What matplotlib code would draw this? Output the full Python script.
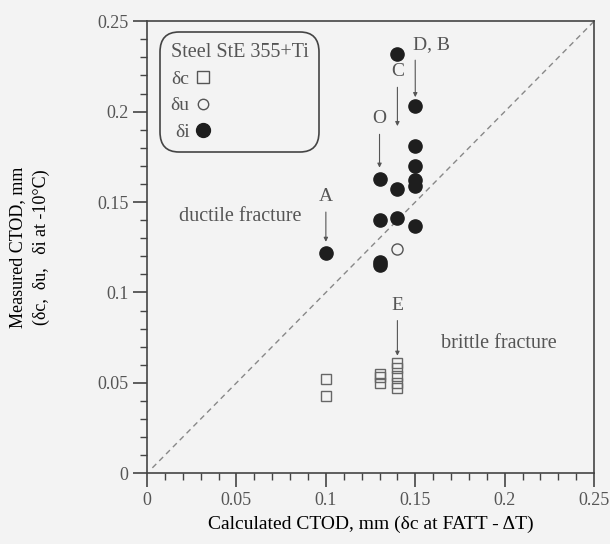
import matplotlib.pyplot as plt
from matplotlib.lines import Line2D
from matplotlib.ticker import MultipleLocator

# measured vs calculated CTOD
di_x = [0.10, 0.13, 0.13, 0.13, 0.13, 0.14, 0.14, 0.14, 0.15, 0.15, 0.15, 0.15, 0.15, 0.15]
di_y = [0.122, 0.163, 0.140, 0.117, 0.115, 0.232, 0.157, 0.141, 0.203, 0.181, 0.170, 0.162, 0.159, 0.137]
du_x = [0.14]
du_y = [0.124]
dc_x = [0.10, 0.10, 0.13, 0.13, 0.13, 0.14, 0.14, 0.14, 0.14, 0.14]
dc_y = [0.052, 0.043, 0.055, 0.053, 0.050, 0.061, 0.058, 0.054, 0.050, 0.047]

ticks = [0, 0.05, 0.1, 0.15, 0.2, 0.25]
tick_labels = ["0", "0.05", "0.1", "0.15", "0.2", "0.25"]

# labelled points: (label, x, y of text, y of arrow tip)
notes = [("A", 0.10, 0.153, 0.128),
         ("O", 0.13, 0.196, 0.169),
         ("C", 0.14, 0.222, 0.192),
         ("D, B", 0.15, 0.237, 0.208),
         ("E", 0.14, 0.093, 0.065)]

txt = "#555555"
plt.rcParams["font.family"] = ["Liberation Serif", "DejaVu Serif"]
plt.rcParams["font.size"] = 13
plt.rcParams["text.color"] = txt

fig = plt.figure(figsize=(6.1, 5.44), dpi=100, facecolor="#f3f3f3")
ax = fig.add_axes([0.241, 0.130, 0.733, 0.831])
ax.set_facecolor("#f3f3f3")

ax.plot([0.003, 0.25], [0.003, 0.25], ls=(0, (4, 3)), color="#888888", lw=1)

ax.plot(dc_x, dc_y, ls="none", marker="s", ms=7.5, mfc="none", mec="#666666", mew=1)
ax.plot(du_x, du_y, ls="none", marker="o", ms=8, mfc="none", mec="#555555", mew=1)
ax.plot(di_x, di_y, ls="none", marker="o", ms=9.5, mfc="#1e1e1e", mec="#1e1e1e")

for lab, x, yt, ya in notes:
    if lab == "D, B":
        # the arrow leaves from under the "D"
        ax.annotate(lab, xy=(x, ya), xytext=(x - 0.0015, yt), ha="left", va="center",
                    fontsize=14,
                    arrowprops=dict(arrowstyle="-|>", color="#555555", lw=0.8,
                                    mutation_scale=6, shrinkA=3, shrinkB=0,
                                    relpos=(0.07, 0)))
    else:
        ax.annotate(lab, xy=(x, ya), xytext=(x, yt), ha="center", va="center",
                    fontsize=14,
                    arrowprops=dict(arrowstyle="-|>", color="#555555", lw=0.8,
                                    mutation_scale=6, shrinkA=3, shrinkB=0))

ax.text(0.052, 0.142, "ductile fracture", ha="center", va="center", fontsize=14.5)
ax.text(0.197, 0.072, "brittle fracture", ha="center", va="center", fontsize=14.5)

handles = [Line2D([], [], ls="none", marker="s", ms=8, mfc="none", mec="#555555"),
           Line2D([], [], ls="none", marker="o", ms=7.5, mfc="none", mec="#555555"),
           Line2D([], [], ls="none", marker="o", ms=10, mfc="#1e1e1e", mec="#1e1e1e")]
leg = ax.legend(handles, ["δc", "δu", "δi"], title="Steel StE 355+Ti",
                loc="upper left", bbox_to_anchor=(0.029, 0.976), borderaxespad=0,
                markerfirst=False,
                handlelength=0.8, handletextpad=0.3, labelspacing=0.45,
                alignment="left", fancybox=True, framealpha=1,
                facecolor="#f3f3f3", edgecolor="#444444",
                borderpad=0.55, fontsize=14, title_fontsize=14.5)
leg.get_frame().set_linewidth(1.2)
leg.get_frame().set_boxstyle("round,pad=0,rounding_size=1.0")
for t in leg.get_texts():
    t.set_color(txt)
leg.get_title().set_color(txt)

ax.set_xlim(0, 0.25)
ax.set_ylim(0, 0.25)
ax.set_xticks(ticks, tick_labels)
ax.set_yticks(ticks, tick_labels)
ax.xaxis.set_minor_locator(MultipleLocator(0.01))
ax.yaxis.set_minor_locator(MultipleLocator(0.01))
ax.tick_params(which="major", direction="out", length=10, width=1.2,
               colors="#444444", labelcolor=txt, labelsize=13)
ax.tick_params(which="minor", direction="out", length=5, width=1, colors="#444444")
for s in ax.spines.values():
    s.set_color("#444444")
    s.set_linewidth(1.2)

ax.set_xlabel("Calculated CTOD, mm (δc at FATT - ΔT)", fontsize=14, labelpad=5)
ax.set_ylabel("Measured CTOD, mm\n(δc,  δu,   δi at -10°C)", fontsize=13, labelpad=34,
              linespacing=1.5)

fig.savefig("out.png", dpi=100, facecolor=fig.get_facecolor())
